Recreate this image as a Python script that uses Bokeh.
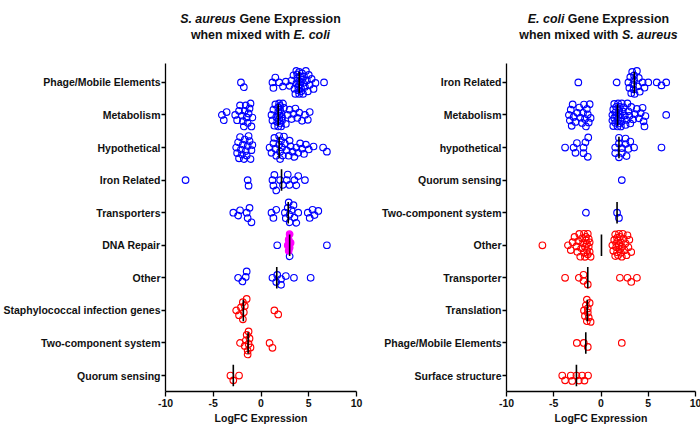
import numpy as np
from bokeh.plotting import figure
from bokeh.models import Range1d, FixedTicker, ColumnDataSource
from bokeh.core.properties import value
from bokeh.layouts import row, column
from bokeh.embed import file_html
from bokeh.resources import INLINE

# ---------------- data ----------------
x_ticks = [-10, -5, 0, 5, 10]

sa_labels = ["Phage/Mobile Elements", "Metabolism", "Hypothetical", "Iron Related",
             "Transporters", "DNA Repair", "Other", "Staphylococcal infection genes",
             "Two-component system", "Quorum sensing"]
sa_phage = [-2.1, -1.8, 1.2, 1.3, 1.5, 1.9, 2.3, 2.6, 3.0, 3.2, 3.4, 3.5, 3.6, 3.7, 3.7, 3.8,
            3.8, 3.9, 3.9, 4.0, 4.0, 4.0, 4.1, 4.1, 4.2, 4.2, 4.3, 4.3, 4.4, 4.4, 4.5, 4.6,
            4.7, 4.8, 4.9, 5.0, 5.1, 5.3, 5.5, 5.7, 6.6]
sa_metabolism = [-4.1, -3.9, -3.6, -2.7, -2.5, -2.3, -2.2, -2.0, -1.9, -1.8, -1.7, -1.6, -1.5,
                 -1.4, -1.3, -1.2, -1.1, -1.0, -0.9,
                 1.1, 1.2, 1.3, 1.4, 1.5, 1.6, 1.7, 1.8, 1.8, 1.8, 1.9, 1.9, 1.9, 2.0, 2.0, 2.0,
                 2.1, 2.1, 2.2, 2.2, 2.3, 2.4, 2.6, 2.8, 3.0, 3.2, 3.4, 3.6, 3.8, 4.0, 4.3, 4.6,
                 4.9, 5.1]
sa_hypothetical = [-2.6, -2.5, -2.4, -2.3, -2.2, -2.1, -2.0, -1.9, -1.8, -1.7, -1.6, -1.5, -1.4,
                   -1.3, -1.2, -1.1, -1.0, -0.9,
                   0.9, 1.1, 1.3, 1.4, 1.5, 1.6, 1.9, 1.9, 2.0, 2.0, 2.1, 2.2, 2.3, 2.4, 2.5, 2.7,
                   2.9, 3.0, 3.1, 3.3, 3.5, 3.7, 3.9, 4.1, 4.3, 4.5, 4.7, 5.0, 5.5, 6.5, 6.9]
sa_iron = [-7.9, -1.4, -1.3, 1.2, 1.3, 1.4, 1.6, 2.0, 2.3, 2.7, 2.8, 3.0, 3.5, 3.7, 3.9, 4.6]
sa_transporters = [-2.9, -2.4, -2.2, -1.5, -1.4, -1.2, -1.0,
                   1.1, 1.3, 1.6, 2.5, 2.6, 2.8, 2.9, 3.0, 3.0, 3.2, 3.4, 3.5, 3.7, 3.9, 4.9,
                   5.1, 5.4, 5.6, 6.0]
sa_dna_repair = [1.7, 3.0, 6.9]
sa_dna_repair_highlight = [2.8, 2.9, 2.9, 3.0, 3.0, 3.1]
sa_other = [-2.4, -1.95, -1.6, -1.5, 1.2, 1.6, 1.7, 2.1, 2.1, 2.6, 3.45, 5.2]
sa_staph_infection = [-2.6, -2.3, -2.1, -1.9, -1.9, -1.8, -1.7, -1.5, 1.4, 1.8]
sa_two_component = [-2.2, -1.7, -1.6, -1.5, -1.4, -1.4, -1.3, -1.3, -1.2, -1.1, 0.9, 1.2]
sa_quorum = [-3.2, -2.9, -2.3]

ec_labels = ["Iron Related", "Metabolism", "hypothetical", "Quorum sensing",
             "Two-component system", "Other", "Transporter", "Translation",
             "Phage/Mobile Elements", "Surface structure"]
ec_iron = [-2.4, 1.65, 2.9, 3.0, 3.1, 3.2, 3.3, 3.4, 3.45, 3.5, 3.5, 3.55, 3.8, 3.9, 4.0, 4.1,
           4.4, 4.6, 5.0, 5.9, 6.4, 6.9]
ec_metabolism = [-3.4, -3.3, -3.2, -3.1, -3.0, -2.9, -2.7, -2.5, -2.3, -2.2, -2.0, -1.9, -1.8,
                 -1.7, -1.6, -1.5, -1.4, -1.3, -1.2, -1.1,
                 1.2, 1.2, 1.3, 1.3, 1.4, 1.4, 1.5, 1.5, 1.6, 1.6, 1.75, 1.8, 1.8, 1.9, 1.9, 2.0,
                 2.0, 2.1, 2.1, 2.2, 2.2, 2.3, 2.4, 2.5, 2.6, 2.7, 2.8, 2.9, 3.0, 3.1, 3.2, 3.4,
                 3.6, 3.8, 4.0, 4.2, 4.4, 4.5, 4.6, 4.7, 6.9]
ec_hypothetical = [-3.8, -2.9, -2.7, -2.55, -1.85, -1.85, -1.65, -1.4, -1.35,
                   1.5, 1.5, 1.9, 1.9, 1.9, 2.2, 2.2, 2.6, 2.6, 2.7, 2.9, 3.1, 3.5, 6.4]
ec_quorum = [2.2]
ec_two_component = [-1.6, 1.7, 1.9]
ec_other = [-6.2, -3.5, -3.2, -3.0, -2.8, -2.6, -2.5, -2.4, -2.3, -2.2, -2.1, -2.0, -1.9, -1.8,
            -1.8, -1.7, -1.7, -1.6, -1.6, -1.5, -1.5, -1.4, -1.4, -1.3, -1.3, -1.2, -1.2, -1.1,
            1.2, 1.3, 1.4, 1.5, 1.5, 1.6, 1.6, 1.7, 1.7, 1.8, 1.8, 1.9, 1.9, 2.0, 2.0, 2.1,
            2.1, 2.2, 2.2, 2.3, 2.4, 2.5, 2.6, 2.7, 2.8, 2.9, 3.0, 3.2]
ec_transporter = [-3.8, -2.35, -1.85, -1.85, -1.4, 2.0, 2.8, 3.2, 3.8]
ec_translation = [-1.8, -1.7, -1.6, -1.5, -1.5, -1.4, -1.4, -1.3, -1.2, -1.1]
ec_phage = [-2.56, -1.82, -1.4, 2.2]
ec_surface = [-4.1, -3.8, -3.2, -3.05, -2.6, -2.35, -2.0, -1.75, -1.37]

sa_groups = [(sa_phage, []), (sa_metabolism, []), (sa_hypothetical, []), (sa_iron, []),
             (sa_transporters, []), (sa_dna_repair, sa_dna_repair_highlight), (sa_other, []),
             (sa_staph_infection, []), (sa_two_component, []), (sa_quorum, [])]
ec_groups = [(ec_iron, []), (ec_metabolism, []), (ec_hypothetical, []), (ec_quorum, []),
             (ec_two_component, []), (ec_other, []), (ec_transporter, []),
             (ec_translation, []), (ec_phage, []), (ec_surface, [])]

sa_title = [[("S. aureus", "bold italic"), ("Gene Expression", "bold")],
            [("when mixed with", "bold"), ("E. coli", "bold italic")]]
ec_title = [[("E. coli", "bold italic"), ("Gene Expression", "bold")],
            [("when mixed with", "bold"), ("S. aureus", "bold italic")]]

# ---------------- styling / layout ----------------
FONT = "Liberation Sans"
BLUE = "#0000FF"
RED = "#FF0000"
MAGENTA = "#FF00FF"
TEXT = "#111111"
TITLE_H = 60
FRAME_H = 328
Y0, Y1 = -0.49, 9.58

HB = {' ': 278, '.': 278, 'S': 667, 'G': 778, 'E': 667, 'a': 556, 'c': 556, 'd': 611, 'e': 556,
      'h': 611, 'i': 278, 'l': 278, 'm': 889, 'n': 611, 'o': 611, 'p': 611, 'r': 389, 's': 556,
      't': 333, 'u': 611, 'w': 778, 'x': 556}


def tw(s, size):
    return sum(HB.get(ch, 556) for ch in s) * size / 1000.0


def swarm(vals, xscale, d=5.6, cap=11.5):
    vals = np.asarray(vals, float)
    order = np.argsort(vals, kind="stable")
    xs = vals * xscale
    placed = []
    offs = np.zeros(len(vals))
    grid = np.arange(-cap, cap + 0.01, 0.5)
    for idx in order:
        x = xs[idx]
        near = [(px, py) for px, py in placed if abs(px - x) < d]
        cands = [0.0]
        for px, py in near:
            h = np.sqrt(d * d - (px - x) ** 2)
            cands += [py + h, py - h]
        cands.sort(key=lambda c: (abs(c), c))
        chosen = None
        for c in cands:
            if abs(c) > cap:
                continue
            if all((px - x) ** 2 + (py - c) ** 2 >= d * d - 1e-6 for px, py in near):
                chosen = c
                break
        if chosen is None:
            chosen = max(grid, key=lambda c: (min((px - x) ** 2 + (py - c) ** 2 for px, py in near), -abs(c)))
        placed.append((x, chosen))
        offs[idx] = chosen
    return offs


def make_panel(labels, groups, red_from, border_left, frame_w, border_right):
    p = figure(frame_width=frame_w, frame_height=FRAME_H,
               x_range=Range1d(-10, 10), y_range=Range1d(Y0, Y1),
               output_backend="svg", toolbar_location=None,
               min_border_left=border_left, min_border_right=border_right, min_border_top=3,
               min_border_bottom=0)
    xpx = frame_w / 20.0
    ypx = FRAME_H / (Y1 - Y0)
    n = len(labels)
    xs, ys, lc, fc = [], [], [], []
    mx, my0, my1 = [], [], []
    for i, (vals, hl) in enumerate(groups):
        yc = n - 1 - i
        allv = list(vals) + list(hl)
        offs = swarm(allv, xpx)
        base = BLUE if i < red_from else RED
        for k, v in enumerate(allv):
            xs.append(v)
            ys.append(yc + offs[k] / ypx)
            if k >= len(vals):
                lc.append(MAGENTA)
                fc.append(MAGENTA)
            else:
                lc.append(base)
                fc.append("rgba(0,0,0,0)")
        if len(allv) > 1:
            med = float(np.median(allv))
            mx.append(med)
            my0.append(yc - 0.33)
            my1.append(yc + 0.33)
    src = ColumnDataSource(dict(x=xs, y=ys, lc=lc, fc=fc))
    p.scatter("x", "y", source=src, marker="circle", size=6.6, line_color="lc",
              fill_color="fc", line_width=1.15)
    p.segment(x0=mx, y0=my0, x1=mx, y1=my1, line_color="black", line_width=1.6)

    p.xgrid.visible = False
    p.ygrid.visible = False
    p.outline_line_color = None

    xa = p.xaxis[0]
    xa.ticker = FixedTicker(ticks=x_ticks, minor_ticks=[])
    xa.major_label_overrides = {t: str(t) for t in x_ticks}
    xa.axis_label = "LogFC Expression"
    ya = p.yaxis[0]
    ya.ticker = FixedTicker(ticks=list(range(n)), minor_ticks=[])
    ya.major_label_overrides = {n - 1 - i: lab for i, lab in enumerate(labels)}
    for ax in (xa, ya):
        ax.axis_line_color = "black"
        ax.axis_line_width = 1.3
        ax.major_tick_line_color = "black"
        ax.major_tick_line_width = 1.3
        ax.major_tick_in = 0
        ax.minor_tick_in = 0
        ax.minor_tick_out = 0
        ax.major_label_text_font = FONT
        ax.major_label_text_font_style = "bold"
        ax.major_label_text_font_size = "10.5px"
        ax.major_label_text_color = TEXT
        ax.axis_label_text_font = FONT
        ax.axis_label_text_font_style = "bold"
        ax.axis_label_text_font_size = "10.5px"
        ax.axis_label_text_color = TEXT
    xa.major_tick_out = 5
    xa.major_label_standoff = 2
    xa.axis_label_standoff = 2
    ya.major_tick_out = 4
    ya.major_label_standoff = 1
    return p


# left panel frame at x 162..353 ; right panel frame at x 503..692
L_BL, L_FW, L_BR = 162, 191, 8
R_BL, R_FW, R_BR = 142, 189, 8
TOTAL_W = L_BL + L_FW + L_BR + R_BL + R_FW + R_BR

p1 = make_panel(sa_labels, sa_groups, 7, L_BL, L_FW, L_BR)
p2 = make_panel(ec_labels, ec_groups, 5, R_BL, R_FW, R_BR)

# title strip (pixel coordinates)
t = figure(frame_width=TOTAL_W, frame_height=TITLE_H, x_range=Range1d(0, TOTAL_W),
           y_range=Range1d(0, TITLE_H), output_backend="svg", toolbar_location=None,
           min_border=0, x_axis_location=None, y_axis_location=None)
t.xgrid.visible = False
t.ygrid.visible = False
t.outline_line_color = None
TSIZE = 12.4
centers = [260, 598]
line_y = [TITLE_H - 18, TITLE_H - 34]
pieces = {"bold": ([], [], []), "bold italic": ([], [], [])}
for cx, lines in zip(centers, [sa_title, ec_title]):
    for ly, parts in zip(line_y, lines):
        widths = [tw(s, TSIZE) for s, _ in parts]
        gap = tw(" ", TSIZE)
        cur = cx - (sum(widths) + gap * (len(parts) - 1)) / 2
        for (s, st), w in zip(parts, widths):
            pieces[st][0].append(cur)
            pieces[st][1].append(ly)
            pieces[st][2].append(s)
            cur += w + gap
for st, (xx, yy, tt) in pieces.items():
    t.text(x=xx, y=yy, text=tt, text_font=value(FONT), text_font_style=st,
           text_font_size=value(f"{TSIZE}px"), text_align="left", text_baseline="middle",
           text_color=TEXT)

layout = column(t, row(p1, p2))
open("out.html", "w").write(file_html(layout, INLINE))
